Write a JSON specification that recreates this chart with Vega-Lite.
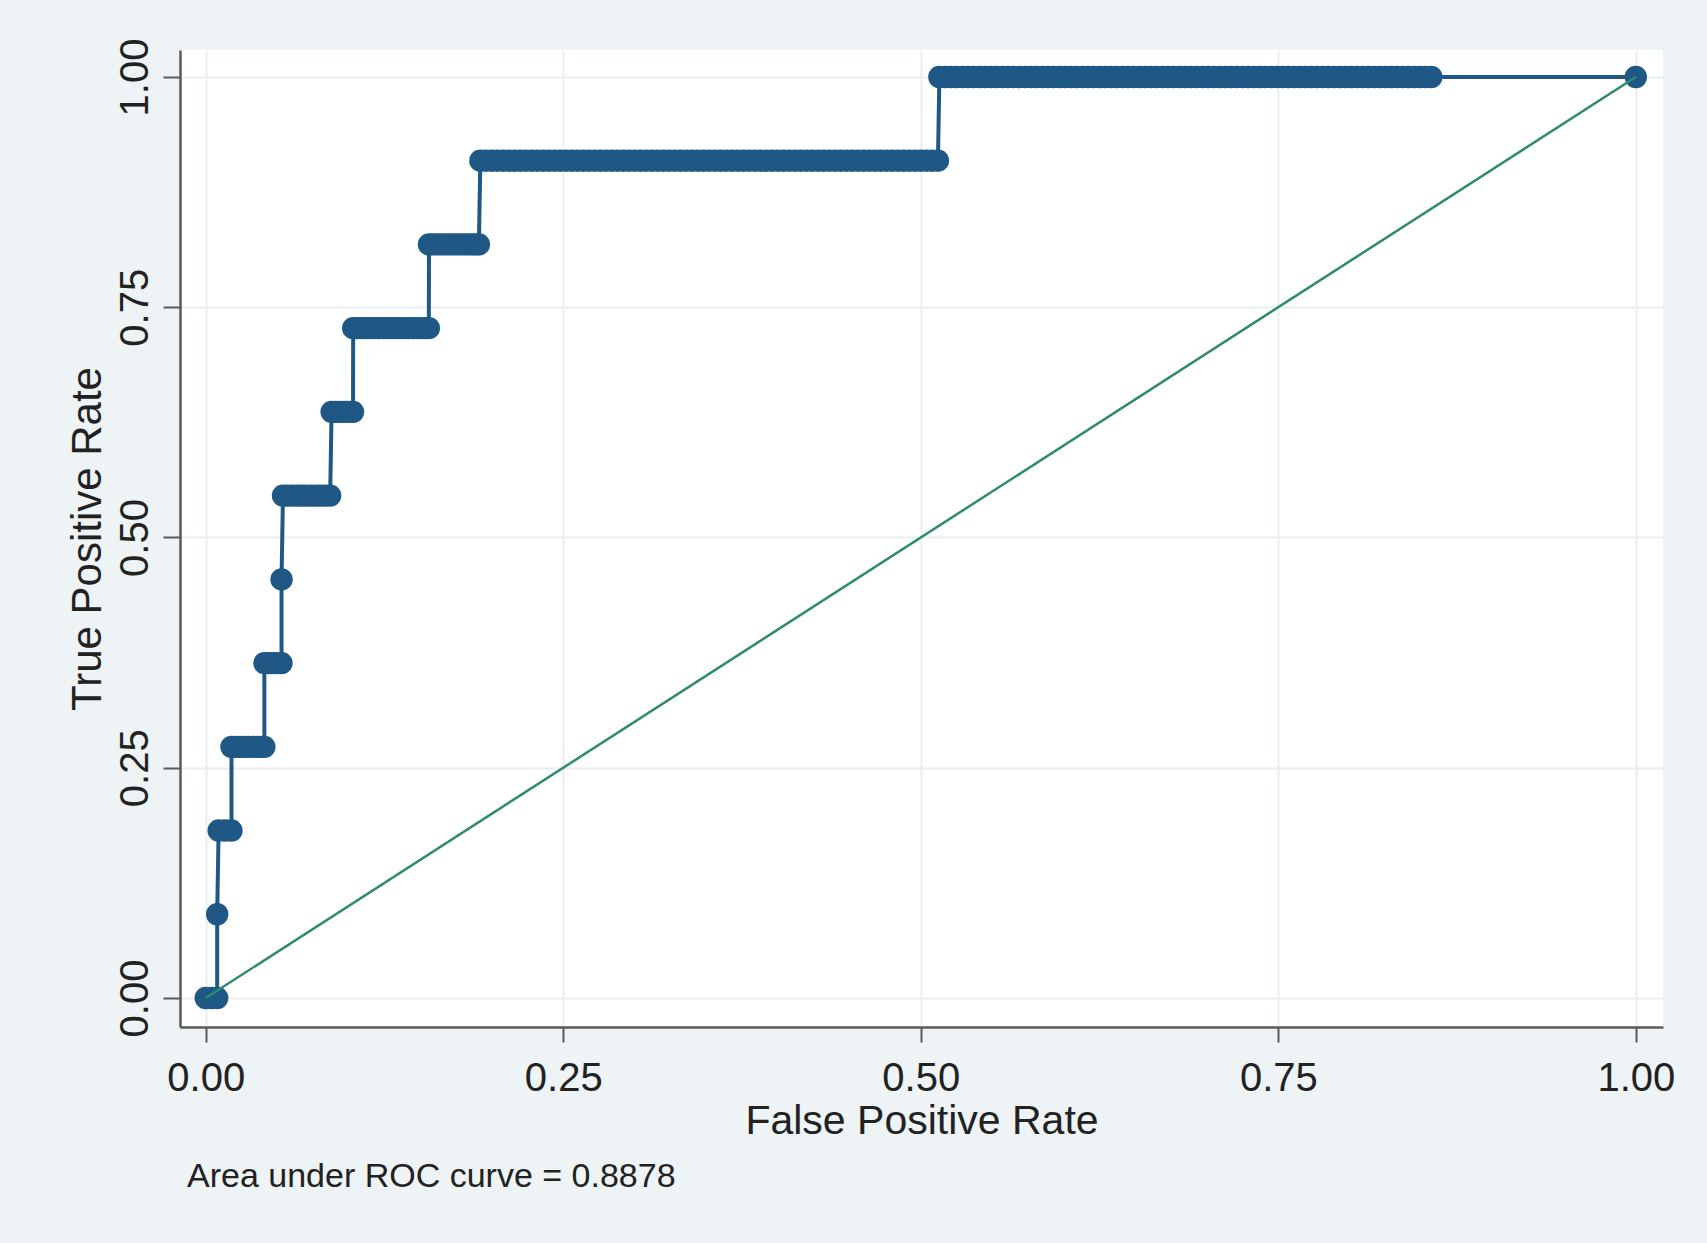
{
  "$schema": "https://vega.github.io/schema/vega-lite/v6.json",
  "width": 1483,
  "height": 977,
  "autosize": {"type": "none"},
  "padding": {"left": 180, "top": 50, "right": 44, "bottom": 216},
  "background": "#eef3f6",
  "config": {"view": {"fill": "white", "stroke": null}, "font": "Liberation Sans"},
  "title": {"text": "Area under ROC curve = 0.8878", "orient": "bottom", "anchor": "start", "frame": "group", "fontSize": 34, "fontWeight": "normal", "color": "#222222", "offset": 19, "dx": 7},
  "datasets": {
    "roc": [
      {"fpr":0,"tpr":0},{"fpr":0.004,"tpr":0},{"fpr":0.008,"tpr":0},
      {"fpr":0.008,"tpr":0.0909},
      {"fpr":0.009,"tpr":0.1818},{"fpr":0.0135,"tpr":0.1818},{"fpr":0.018,"tpr":0.1818},
      {"fpr":0.018,"tpr":0.2727},{"fpr":0.021,"tpr":0.2727},{"fpr":0.024,"tpr":0.2727},{"fpr":0.027,"tpr":0.2727},{"fpr":0.03,"tpr":0.2727},{"fpr":0.033,"tpr":0.2727},{"fpr":0.036,"tpr":0.2727},{"fpr":0.0385,"tpr":0.2727},{"fpr":0.041,"tpr":0.2727},
      {"fpr":0.041,"tpr":0.3636},{"fpr":0.044,"tpr":0.3636},{"fpr":0.047,"tpr":0.3636},{"fpr":0.05,"tpr":0.3636},{"fpr":0.053,"tpr":0.3636},
      {"fpr":0.053,"tpr":0.4545},
      {"fpr":0.054,"tpr":0.5455},{"fpr":0.057,"tpr":0.5455},{"fpr":0.0605,"tpr":0.5455},{"fpr":0.064,"tpr":0.5455},{"fpr":0.067,"tpr":0.5455},{"fpr":0.07,"tpr":0.5455},{"fpr":0.0735,"tpr":0.5455},{"fpr":0.077,"tpr":0.5455},{"fpr":0.08,"tpr":0.5455},{"fpr":0.0835,"tpr":0.5455},{"fpr":0.087,"tpr":0.5455},
      {"fpr":0.088,"tpr":0.6364},{"fpr":0.0905,"tpr":0.6364},{"fpr":0.093,"tpr":0.6364},{"fpr":0.0955,"tpr":0.6364},{"fpr":0.098,"tpr":0.6364},{"fpr":0.1005,"tpr":0.6364},{"fpr":0.103,"tpr":0.6364},
      {"fpr":0.1031,"tpr":0.7273},{"fpr":0.106,"tpr":0.7273},{"fpr":0.109,"tpr":0.7273},{"fpr":0.112,"tpr":0.7273},{"fpr":0.115,"tpr":0.7273},{"fpr":0.118,"tpr":0.7273},{"fpr":0.121,"tpr":0.7273},{"fpr":0.124,"tpr":0.7273},{"fpr":0.127,"tpr":0.7273},{"fpr":0.13,"tpr":0.7273},{"fpr":0.133,"tpr":0.7273},{"fpr":0.136,"tpr":0.7273},{"fpr":0.139,"tpr":0.7273},{"fpr":0.142,"tpr":0.7273},{"fpr":0.145,"tpr":0.7273},{"fpr":0.148,"tpr":0.7273},{"fpr":0.151,"tpr":0.7273},{"fpr":0.1535,"tpr":0.7273},{"fpr":0.156,"tpr":0.7273},
      {"fpr":0.1561,"tpr":0.8182},{"fpr":0.159,"tpr":0.8182},{"fpr":0.162,"tpr":0.8182},{"fpr":0.165,"tpr":0.8182},{"fpr":0.168,"tpr":0.8182},{"fpr":0.171,"tpr":0.8182},{"fpr":0.174,"tpr":0.8182},{"fpr":0.177,"tpr":0.8182},{"fpr":0.18,"tpr":0.8182},{"fpr":0.183,"tpr":0.8182},{"fpr":0.186,"tpr":0.8182},{"fpr":0.1885,"tpr":0.8182},{"fpr":0.191,"tpr":0.8182},
      {"fpr":0.192,"tpr":0.9091},{"fpr":0.196,"tpr":0.9091},{"fpr":0.2,"tpr":0.9091},{"fpr":0.204,"tpr":0.9091},{"fpr":0.208,"tpr":0.9091},{"fpr":0.212,"tpr":0.9091},{"fpr":0.216,"tpr":0.9091},{"fpr":0.22,"tpr":0.9091},{"fpr":0.224,"tpr":0.9091},{"fpr":0.228,"tpr":0.9091},{"fpr":0.232,"tpr":0.9091},{"fpr":0.236,"tpr":0.9091},{"fpr":0.24,"tpr":0.9091},{"fpr":0.244,"tpr":0.9091},{"fpr":0.248,"tpr":0.9091},{"fpr":0.252,"tpr":0.9091},{"fpr":0.256,"tpr":0.9091},{"fpr":0.26,"tpr":0.9091},{"fpr":0.264,"tpr":0.9091},{"fpr":0.268,"tpr":0.9091},{"fpr":0.272,"tpr":0.9091},{"fpr":0.276,"tpr":0.9091},{"fpr":0.28,"tpr":0.9091},{"fpr":0.284,"tpr":0.9091},{"fpr":0.288,"tpr":0.9091},{"fpr":0.292,"tpr":0.9091},{"fpr":0.296,"tpr":0.9091},{"fpr":0.3,"tpr":0.9091},{"fpr":0.304,"tpr":0.9091},{"fpr":0.308,"tpr":0.9091},{"fpr":0.312,"tpr":0.9091},{"fpr":0.316,"tpr":0.9091},{"fpr":0.32,"tpr":0.9091},{"fpr":0.324,"tpr":0.9091},{"fpr":0.328,"tpr":0.9091},{"fpr":0.332,"tpr":0.9091},{"fpr":0.336,"tpr":0.9091},{"fpr":0.34,"tpr":0.9091},{"fpr":0.344,"tpr":0.9091},{"fpr":0.348,"tpr":0.9091},{"fpr":0.352,"tpr":0.9091},{"fpr":0.356,"tpr":0.9091},{"fpr":0.36,"tpr":0.9091},{"fpr":0.364,"tpr":0.9091},{"fpr":0.368,"tpr":0.9091},{"fpr":0.372,"tpr":0.9091},{"fpr":0.376,"tpr":0.9091},{"fpr":0.38,"tpr":0.9091},{"fpr":0.384,"tpr":0.9091},{"fpr":0.388,"tpr":0.9091},{"fpr":0.392,"tpr":0.9091},{"fpr":0.396,"tpr":0.9091},{"fpr":0.4,"tpr":0.9091},{"fpr":0.404,"tpr":0.9091},{"fpr":0.408,"tpr":0.9091},{"fpr":0.412,"tpr":0.9091},{"fpr":0.416,"tpr":0.9091},{"fpr":0.42,"tpr":0.9091},{"fpr":0.424,"tpr":0.9091},{"fpr":0.428,"tpr":0.9091},{"fpr":0.432,"tpr":0.9091},{"fpr":0.436,"tpr":0.9091},{"fpr":0.44,"tpr":0.9091},{"fpr":0.444,"tpr":0.9091},{"fpr":0.448,"tpr":0.9091},{"fpr":0.452,"tpr":0.9091},{"fpr":0.456,"tpr":0.9091},{"fpr":0.46,"tpr":0.9091},{"fpr":0.464,"tpr":0.9091},{"fpr":0.468,"tpr":0.9091},{"fpr":0.472,"tpr":0.9091},{"fpr":0.476,"tpr":0.9091},{"fpr":0.48,"tpr":0.9091},{"fpr":0.484,"tpr":0.9091},{"fpr":0.488,"tpr":0.9091},{"fpr":0.492,"tpr":0.9091},{"fpr":0.496,"tpr":0.9091},{"fpr":0.5,"tpr":0.9091},{"fpr":0.504,"tpr":0.9091},{"fpr":0.508,"tpr":0.9091},{"fpr":0.512,"tpr":0.9091},
      {"fpr":0.513,"tpr":1},{"fpr":0.517,"tpr":1},{"fpr":0.521,"tpr":1},{"fpr":0.525,"tpr":1},{"fpr":0.529,"tpr":1},{"fpr":0.533,"tpr":1},{"fpr":0.537,"tpr":1},{"fpr":0.541,"tpr":1},{"fpr":0.545,"tpr":1},{"fpr":0.549,"tpr":1},{"fpr":0.553,"tpr":1},{"fpr":0.557,"tpr":1},{"fpr":0.561,"tpr":1},{"fpr":0.565,"tpr":1},{"fpr":0.569,"tpr":1},{"fpr":0.573,"tpr":1},{"fpr":0.577,"tpr":1},{"fpr":0.581,"tpr":1},{"fpr":0.585,"tpr":1},{"fpr":0.589,"tpr":1},{"fpr":0.593,"tpr":1},{"fpr":0.597,"tpr":1},{"fpr":0.601,"tpr":1},{"fpr":0.605,"tpr":1},{"fpr":0.609,"tpr":1},{"fpr":0.613,"tpr":1},{"fpr":0.617,"tpr":1},{"fpr":0.621,"tpr":1},{"fpr":0.625,"tpr":1},{"fpr":0.629,"tpr":1},{"fpr":0.633,"tpr":1},{"fpr":0.637,"tpr":1},{"fpr":0.641,"tpr":1},{"fpr":0.645,"tpr":1},{"fpr":0.649,"tpr":1},{"fpr":0.653,"tpr":1},{"fpr":0.657,"tpr":1},{"fpr":0.661,"tpr":1},{"fpr":0.665,"tpr":1},{"fpr":0.669,"tpr":1},{"fpr":0.673,"tpr":1},{"fpr":0.677,"tpr":1},{"fpr":0.681,"tpr":1},{"fpr":0.685,"tpr":1},{"fpr":0.689,"tpr":1},{"fpr":0.693,"tpr":1},{"fpr":0.697,"tpr":1},{"fpr":0.701,"tpr":1},{"fpr":0.705,"tpr":1},{"fpr":0.709,"tpr":1},{"fpr":0.713,"tpr":1},{"fpr":0.717,"tpr":1},{"fpr":0.721,"tpr":1},{"fpr":0.725,"tpr":1},{"fpr":0.729,"tpr":1},{"fpr":0.733,"tpr":1},{"fpr":0.737,"tpr":1},{"fpr":0.741,"tpr":1},{"fpr":0.745,"tpr":1},{"fpr":0.749,"tpr":1},{"fpr":0.753,"tpr":1},{"fpr":0.757,"tpr":1},{"fpr":0.761,"tpr":1},{"fpr":0.765,"tpr":1},{"fpr":0.769,"tpr":1},{"fpr":0.773,"tpr":1},{"fpr":0.777,"tpr":1},{"fpr":0.781,"tpr":1},{"fpr":0.785,"tpr":1},{"fpr":0.789,"tpr":1},{"fpr":0.793,"tpr":1},{"fpr":0.797,"tpr":1},{"fpr":0.801,"tpr":1},{"fpr":0.805,"tpr":1},{"fpr":0.809,"tpr":1},{"fpr":0.813,"tpr":1},{"fpr":0.817,"tpr":1},{"fpr":0.821,"tpr":1},{"fpr":0.825,"tpr":1},{"fpr":0.829,"tpr":1},{"fpr":0.833,"tpr":1},{"fpr":0.837,"tpr":1},{"fpr":0.841,"tpr":1},{"fpr":0.845,"tpr":1},{"fpr":0.849,"tpr":1},{"fpr":0.853,"tpr":1},{"fpr":0.857,"tpr":1},
      {"fpr":1,"tpr":1}
    ],
    "ref": [{"fpr": 0, "tpr": 0}, {"fpr": 1, "tpr": 1}]
  },
  "encoding": {
    "x": {
      "field": "fpr", "type": "quantitative",
      "scale": {"domain": [-0.018, 1.019], "nice": false, "zero": false},
      "axis": {"title": "False Positive Rate", "values": [0, 0.25, 0.5, 0.75, 1], "format": ".2f", "labelFontSize": 40, "titleFontSize": 41, "titleFontWeight": "normal", "labelColor": "#222222", "titleColor": "#222222", "domainColor": "#5a5a5a", "domainWidth": 2.5, "tickColor": "#5a5a5a", "tickWidth": 2, "tickSize": 15, "labelPadding": 16, "labelFlush": false, "gridColor": "#e9eef2", "gridWidth": 2, "titlePadding": 3}
    },
    "y": {
      "field": "tpr", "type": "quantitative",
      "scale": {"domain": [-0.0315, 1.0293], "nice": false, "zero": false},
      "axis": {"title": "True Positive Rate", "values": [0, 0.25, 0.5, 0.75, 1], "format": ".2f", "labelFontSize": 40, "titleFontSize": 42, "titleFontWeight": "normal", "labelColor": "#222222", "titleColor": "#222222", "domainColor": "#5a5a5a", "domainWidth": 2.5, "tickColor": "#5a5a5a", "tickWidth": 2, "tickSize": 17, "labelAngle": 270, "labelAlign": "center", "labelBaseline": "alphabetic", "labelPadding": 16, "labelFlush": false, "gridColor": "#e9eef2", "gridWidth": 2, "titlePadding": 6}
    }
  },
  "layer": [
    {"data": {"name": "roc"}, "mark": {"type": "line", "color": "#1f5885", "strokeWidth": 4}, "encoding": {"order": [{"field": "fpr", "type": "quantitative"}, {"field": "tpr", "type": "quantitative"}]}},
    {"data": {"name": "roc"}, "mark": {"type": "point", "filled": true, "shape": "circle", "size": 500, "color": "#1f5885", "opacity": 1}},
    {"data": {"name": "ref"}, "mark": {"type": "line", "color": "#2e8b6f", "strokeWidth": 2.5}}
  ]
}
